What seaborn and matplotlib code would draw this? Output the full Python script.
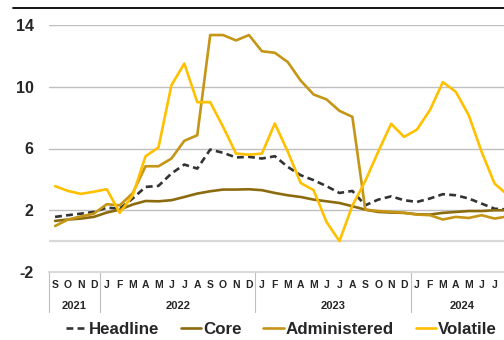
import numpy as np
import pandas as pd
import matplotlib
matplotlib.use("Agg")
import matplotlib.pyplot as plt
import seaborn as sns
from matplotlib.lines import Line2D
from matplotlib.transforms import blended_transform_factory

# data: monthly, Sep 2021 - Aug 2024 (last month cropped at right edge)
months = ["S", "O", "N", "D"] + list("JFMAMJJASOND") * 2 + list("JFMAMJJA")
years = ["2021", "2022", "2023", "2024"]
year_len = [4, 12, 12, 8]

headline = [1.57, 1.68, 1.78, 1.89, 2.17, 2.10, 2.76, 3.51, 3.58, 4.38, 4.96, 4.70,
            5.93, 5.72, 5.42, 5.46, 5.35, 5.50, 4.81, 4.27, 3.95, 3.56, 3.12, 3.25,
            2.32, 2.69, 2.90, 2.65, 2.54, 2.76, 3.04, 2.97, 2.76, 2.43, 2.10, 2.05]
core = [1.31, 1.40, 1.46, 1.57, 1.85, 2.04, 2.37, 2.60, 2.58, 2.65, 2.86, 3.08,
        3.23, 3.34, 3.34, 3.36, 3.30, 3.12, 2.97, 2.86, 2.69, 2.58, 2.47, 2.26,
        2.04, 1.89, 1.85, 1.83, 1.74, 1.72, 1.83, 1.89, 1.95, 1.95, 2.00, 2.00]
administered = [0.98, 1.40, 1.60, 1.78, 2.39, 2.32, 3.10, 4.85, 4.85, 5.35, 6.50, 6.86,
                13.35, 13.35, 13.00, 13.35, 12.30, 12.20, 11.60, 10.40, 9.50, 9.18, 8.44, 8.05,
                2.04, 1.95, 1.90, 1.83, 1.72, 1.68, 1.40, 1.57, 1.50, 1.68, 1.46, 1.60]
volatile = [3.56, 3.25, 3.06, 3.20, 3.36, 1.83, 2.95, 5.50, 6.07, 10.10, 11.50, 9.00,
            9.00, 7.40, 5.67, 5.60, 5.67, 7.62, 5.80, 3.77, 3.30, 1.24, 0.00, 2.30,
            3.90, 5.80, 7.60, 6.75, 7.23, 8.49, 10.30, 9.67, 8.16, 5.78, 3.73, 3.00]

series = {"Headline": headline, "Core": core,
          "Administered": administered, "Volatile": volatile}
colors = {"Headline": "#333333", "Core": "#8C6B0F",
          "Administered": "#C59516", "Volatile": "#FFC000"}
styles = {"Headline": (0, (2.6, 1.6)), "Core": "-",
          "Administered": "-", "Volatile": "-"}

x = np.arange(len(months))

sns.set_theme(style="white")
plt.rcParams["font.family"] = ["Liberation Sans", "DejaVu Sans"]
plt.rcParams["font.weight"] = "bold"

fig = plt.figure(figsize=(5.04, 3.4), dpi=100)
ax = fig.add_axes([49 / 504, 68 / 340, 455 / 504, 247 / 340])

for name, vals in series.items():
    sns.lineplot(x=x, y=vals, ax=ax, color=colors[name], linewidth=1.9,
                 linestyle=styles[name], label=name, legend=False)

ax.set_xlim(-0.47, 34.73)
ax.set_ylim(-2, 14)

# grid
for g in [2, 6, 10, 14]:
    ax.axhline(g, color="#BFBFBF", lw=1.0, zorder=0)
ax.axhline(0, color="#D9D9D9", lw=1.6, zorder=0)

for s in ["top", "right", "left"]:
    ax.spines[s].set_visible(False)
ax.spines["bottom"].set_color("#D9D9D9")
ax.spines["bottom"].set_linewidth(1.5)

ax.set_yticks([-2, 2, 6, 10, 14])
ax.set_yticklabels(["-2", "2", "6", "10", "14"], fontsize=11.5, fontweight="bold")
ax.tick_params(axis="y", length=0, pad=11)

# last month (Aug 2024) falls outside the visible area
ax.set_xticks(x[:-1])
ax.set_xticklabels(months[:-1], fontsize=7.5, fontweight="bold")
ax.tick_params(axis="x", length=0, pad=5.5)

# year groups
trans = blended_transform_factory(ax.transData, ax.transAxes)
start = 0
seps = [-0.47]
for yr, n in zip(years, year_len):
    ax.text(start - 0.5 + n / 2, -0.137, yr, transform=trans, ha="center",
            va="center", fontsize=8, fontweight="bold", clip_on=False)
    start += n
    seps.append(start - 0.5)
for sx in seps[:-1]:
    ax.plot([sx, sx], [0, -0.162], transform=trans, color="#BFBFBF",
            lw=0.8, clip_on=False)

# top rule
fig.add_artist(Line2D([13 / 504, 1], [1 - 8 / 340, 1 - 8 / 340],
                      color="black", lw=1.3))

handles, labels = ax.get_legend_handles_labels()
fig.legend(handles, labels, loc="center", bbox_to_anchor=(0.5585, 0.03), ncol=4,
           frameon=False, prop={"size": 12.2, "weight": "bold"},
           handlelength=1.2, handletextpad=0.1, columnspacing=1.3,
           borderpad=0, borderaxespad=0)

fig.savefig("out.png", dpi=100)
